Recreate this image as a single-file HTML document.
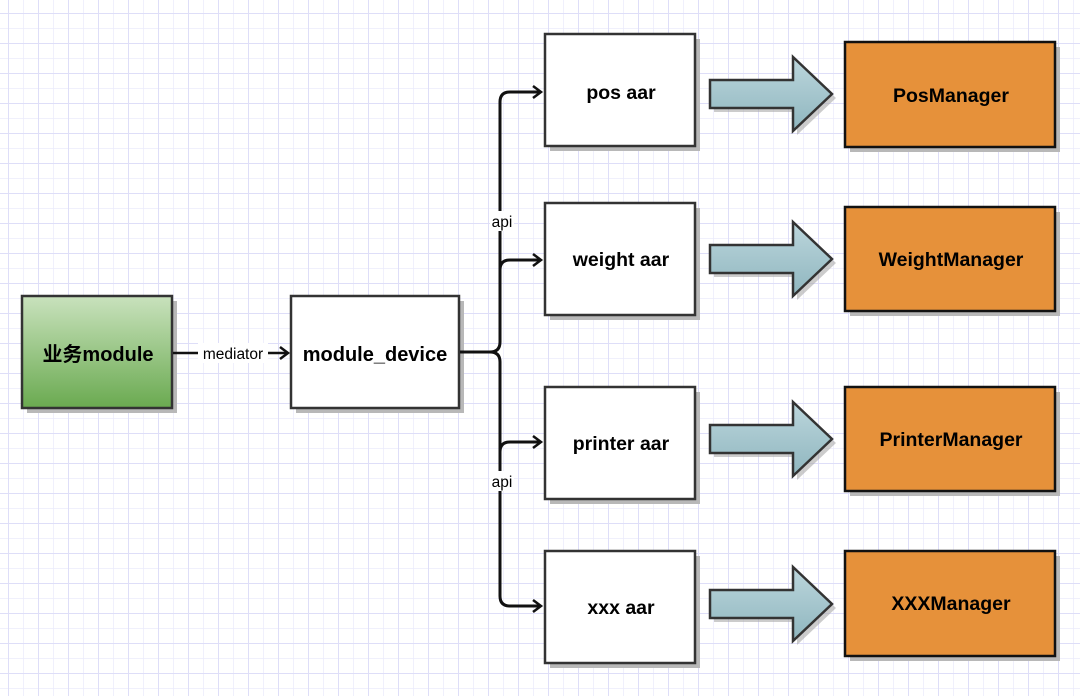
<!DOCTYPE html>
<html><head><meta charset="utf-8"><style>
html,body{margin:0;padding:0;background:#fff}
svg{display:block}
text{font-family:"Liberation Sans","Noto Sans CJK SC",sans-serif}
</style></head><body>
<svg width="1080" height="696" viewBox="0 0 1080 696" xmlns="http://www.w3.org/2000/svg">
<defs>
<pattern id="minor" width="15" height="15" patternUnits="userSpaceOnUse" x="8" y="13">
<path d="M0 0H15M0 0V15" stroke="#ebebfb" stroke-width="1.5" fill="none"/>
</pattern>
<pattern id="major" width="30" height="30" patternUnits="userSpaceOnUse" x="8" y="13">
<path d="M0 0H30M0 0V30" stroke="#dedef8" stroke-width="2" fill="none"/>
</pattern>
<linearGradient id="g" x1="0" y1="0" x2="0" y2="1"><stop offset="0" stop-color="#c9e2bd"/><stop offset="1" stop-color="#6aaa50"/></linearGradient>
<linearGradient id="b" x1="0" y1="0" x2="0" y2="1"><stop offset="0" stop-color="#bcd6dc"/><stop offset="1" stop-color="#8fb6bf"/></linearGradient>
<marker id="ah" markerWidth="14" markerHeight="14" refX="11" refY="7" orient="auto" markerUnits="userSpaceOnUse"><path d="M3 1L11 7L3 13" fill="none" stroke="#111" stroke-width="2.5"/></marker>
</defs>
<rect width="1080" height="696" fill="#fff"/>
<rect width="1080" height="696" fill="url(#minor)"/>
<rect width="1080" height="696" fill="url(#major)"/>

<g fill="#b8b8b8">
<rect x="27" y="301" width="150" height="112"/>
<rect x="296" y="301" width="168" height="112"/>
<rect x="550" y="39" width="150" height="112"/>
<rect x="550" y="208" width="150" height="112"/>
<rect x="550" y="392" width="150" height="112"/>
<rect x="550" y="556" width="150" height="112"/>
<rect x="850" y="47" width="210" height="105"/>
<rect x="850" y="212" width="210" height="104"/>
<rect x="850" y="392" width="210" height="104"/>
<rect x="850" y="556" width="210" height="105"/>
</g>

<rect x="22" y="296" width="150" height="112" fill="url(#g)" stroke="#333" stroke-width="2.5"/>
<text x="98" y="361" text-anchor="middle" font-size="20" font-weight="bold">业务module</text>
<rect x="291" y="296" width="168" height="112" fill="#fff" stroke="#333" stroke-width="2.5"/>
<text x="375" y="361" text-anchor="middle" font-size="20" font-weight="bold">module_device</text>

<line x1="173" y1="353" x2="288" y2="353" stroke="#111" stroke-width="2.5" marker-end="url(#ah)"/>
<rect x="198" y="343" width="70" height="20" fill="#fff"/>
<text x="233" y="359" text-anchor="middle" font-size="15.5">mediator</text>

<g fill="none" stroke="#111" stroke-width="3">
<path d="M460 352H490Q500 352 500 342V102Q500 92 510 92H541" marker-end="url(#ah)"/>
<path d="M500 270Q500 260 510 260H541" marker-end="url(#ah)"/>
<path d="M460 352H490Q500 352 500 362V596Q500 606 510 606H541" marker-end="url(#ah)"/>
<path d="M500 452Q500 442 510 442H541" marker-end="url(#ah)"/>
</g>
<rect x="490" y="211" width="24" height="20" fill="#fff"/>
<text x="502" y="227" text-anchor="middle" font-size="15.5">api</text>
<rect x="490" y="471" width="24" height="20" fill="#fff"/>
<text x="502" y="487" text-anchor="middle" font-size="15.5">api</text>

<g fill="#fff" stroke="#333" stroke-width="2.5">
<rect x="545" y="34" width="150" height="112"/>
<rect x="545" y="203" width="150" height="112"/>
<rect x="545" y="387" width="150" height="112"/>
<rect x="545" y="551" width="150" height="112"/>
</g>
<g font-size="19.5" font-weight="bold" text-anchor="middle">
<text x="621" y="99">pos aar</text>
<text x="621" y="266">weight aar</text>
<text x="621" y="450">printer aar</text>
<text x="621" y="614">xxx aar</text>
</g>

<g>
<path d="M714 84H797V61L836 98L797 135V112H714Z" fill="#aaa" opacity="0.6"/>
<path d="M710 80H793V57L832 94L793 131V108H710Z" fill="url(#b)" stroke="#333" stroke-width="2.5"/>
<path d="M714 249H797V226L836 263L797 300V277H714Z" fill="#aaa" opacity="0.6"/>
<path d="M710 245H793V222L832 259L793 296V273H710Z" fill="url(#b)" stroke="#333" stroke-width="2.5"/>
<path d="M714 429H797V406L836 443L797 480V457H714Z" fill="#aaa" opacity="0.6"/>
<path d="M710 425H793V402L832 439L793 476V453H710Z" fill="url(#b)" stroke="#333" stroke-width="2.5"/>
<path d="M714 594H797V571L836 608L797 645V622H714Z" fill="#aaa" opacity="0.6"/>
<path d="M710 590H793V567L832 604L793 641V618H710Z" fill="url(#b)" stroke="#333" stroke-width="2.5"/>
</g>

<g fill="#e6913a" stroke="#111" stroke-width="2.5">
<rect x="845" y="42" width="210" height="105"/>
<rect x="845" y="207" width="210" height="104"/>
<rect x="845" y="387" width="210" height="104"/>
<rect x="845" y="551" width="210" height="105"/>
</g>
<g font-size="19.5" font-weight="bold" text-anchor="middle">
<text x="951" y="102">PosManager</text>
<text x="951" y="266">WeightManager</text>
<text x="951" y="446">PrinterManager</text>
<text x="951" y="610">XXXManager</text>
</g>
</svg>
</body></html>
